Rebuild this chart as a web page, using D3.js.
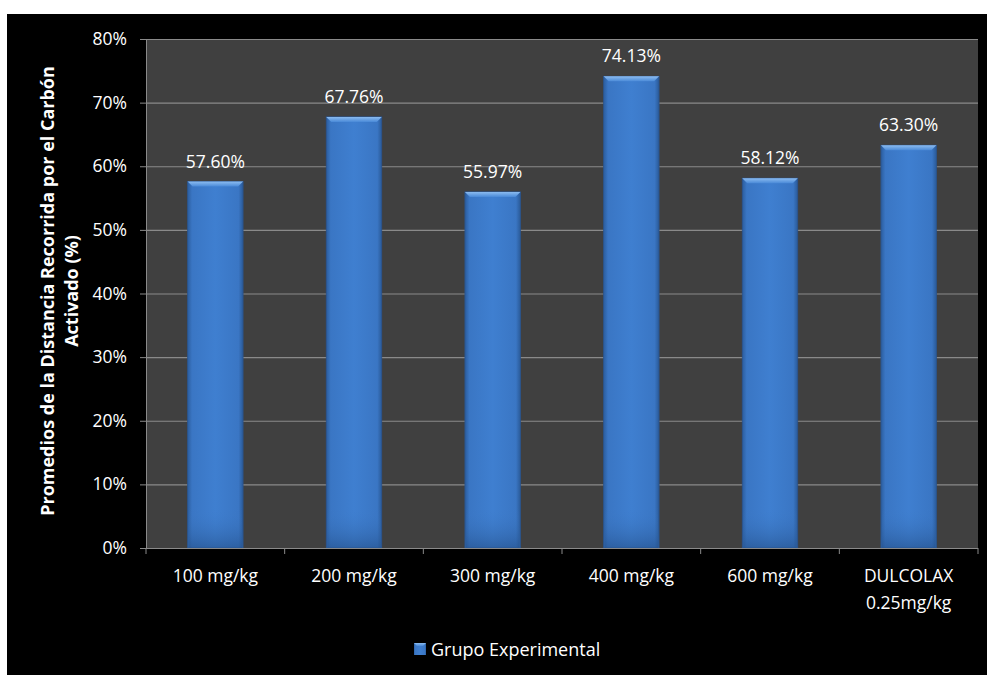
<!DOCTYPE html>
<html>
<head>
<meta charset="utf-8">
<script src="https://cdn.jsdelivr.net/npm/d3@7"></script>
<style>
  body { margin: 0; background: #fff; }
  svg { display: block; font-family: "Open Sans", "Noto Sans", sans-serif; }
</style>
</head>
<body>
<svg id="chart"></svg>
<script>
// Data
const categories = ["100 mg/kg", "200 mg/kg", "300 mg/kg", "400 mg/kg", "600 mg/kg", "DULCOLAX\n0.25mg/kg"]
const values = [57.60, 67.76, 55.97, 74.13, 58.12, 63.30]
const yTicks = [0, 10, 20, 30, 40, 50, 60, 70, 80]
const seriesName = "Grupo Experimental"
const yTitle = ["Promedios de la Distancia Recorrida por el Carbón", "Activado (%)"]

const width = 987
const height = 675
const plot = {left: 146, right: 978, top: 39, bottom: 548}
const fontSize = 17.5

const svg = d3.select('#chart')
    .attr('width', width)
    .attr('height', height)

// gradients for the bevelled bars
const defs = svg.append('defs')
const grad = defs.append('linearGradient').attr('id', 'barGrad')
    .attr('x1', 0).attr('x2', 1).attr('y1', 0).attr('y2', 0)
grad.append('stop').attr('offset', '0%').attr('stop-color', '#2b5d9e')
grad.append('stop').attr('offset', '8%').attr('stop-color', '#3a76c4')
grad.append('stop').attr('offset', '50%').attr('stop-color', '#3f7fd0')
grad.append('stop').attr('offset', '92%').attr('stop-color', '#3a76c4')
grad.append('stop').attr('offset', '100%').attr('stop-color', '#2a5a98')

const topGrad = defs.append('linearGradient').attr('id', 'topGrad')
    .attr('x1', 0).attr('x2', 0).attr('y1', 0).attr('y2', 1)
topGrad.append('stop').attr('offset', '0%').attr('stop-color', '#8cbcf0')
topGrad.append('stop').attr('offset', '100%').attr('stop-color', '#4a8ad8')

const botGrad = defs.append('linearGradient').attr('id', 'botGrad')
    .attr('x1', 0).attr('x2', 0).attr('y1', 0).attr('y2', 1)
botGrad.append('stop').attr('offset', '0%').attr('stop-color', '#3f7fd0').attr('stop-opacity', 0)
botGrad.append('stop').attr('offset', '100%').attr('stop-color', '#24508a').attr('stop-opacity', 0.6)

// black chart background
svg.append('rect')
    .attr('x', 7).attr('y', 14)
    .attr('width', width - 7).attr('height', height - 14)
    .attr('fill', '#000')

// plot area
svg.append('rect')
    .attr('x', plot.left).attr('y', plot.top)
    .attr('width', plot.right - plot.left).attr('height', plot.bottom - plot.top)
    .attr('fill', '#404040')

// scales
const xScale = d3.scaleBand()
    .domain(categories)
    .range([plot.left, plot.right])
    .paddingInner(0.6)
    .paddingOuter(0.3)

const yScale = d3.scaleLinear()
    .domain([0, 80])
    .range([plot.bottom, plot.top])

// gridlines
svg.append('g')
    .selectAll('line')
    .data(yTicks.filter(d => d > 0))
    .enter()
    .append('line')
    .attr('x1', plot.left).attr('x2', plot.right)
    .attr('y1', d => yScale(d) + 0.5).attr('y2', d => yScale(d) + 0.5)
    .attr('stroke', '#8a8a8a')
    .attr('stroke-width', 1.2)

// bars
const bars = svg.append('g')
    .selectAll('g')
    .data(values)
    .enter()
    .append('g')

bars.append('rect')
    .attr('x', (d, i) => xScale(categories[i]))
    .attr('y', d => yScale(d))
    .attr('width', xScale.bandwidth())
    .attr('height', d => plot.bottom - yScale(d))
    .attr('fill', 'url(#barGrad)')
    .attr('stroke', '#2a5590')
    .attr('stroke-width', 0.8)

bars.append('path')
    .attr('d', (d, i) => {
        const x0 = xScale(categories[i]), x1 = x0 + xScale.bandwidth(), y = yScale(d)
        return `M${x0},${y}L${x1},${y}L${x1 - 5},${y + 5}L${x0 + 5},${y + 5}Z`
    })
    .attr('fill', 'url(#topGrad)')

bars.append('rect')
    .attr('x', (d, i) => xScale(categories[i]) + 1)
    .attr('y', plot.bottom - 40)
    .attr('width', xScale.bandwidth() - 2)
    .attr('height', 40)
    .attr('fill', 'url(#botGrad)')

// data labels
bars.append('text')
    .attr('x', (d, i) => xScale(categories[i]) + xScale.bandwidth() / 2)
    .attr('y', d => yScale(d) - 14)
    .attr('text-anchor', 'middle')
    .attr('fill', '#fff')
    .attr('font-size', fontSize)
    .text(d => d.toFixed(2) + '%')

// y axis
const yAxis = d3.axisLeft(yScale)
    .tickValues(yTicks)
    .tickFormat(d => d + '%')
    .tickSize(6)
    .tickPadding(13)
svg.append('g')
    .attr('transform', 'translate(' + plot.left + ',0)')
    .call(yAxis)
    .call(g => g.selectAll('line, path').attr('stroke', '#8a8a8a'))
    .call(g => g.select('.domain').attr('d', `M0.5,${plot.top}V${plot.bottom}`))
    .call(g => g.selectAll('text').attr('fill', '#fff').attr('font-size', fontSize)
        .attr('font-family', '"Open Sans", sans-serif'))

// x axis (category boundaries as ticks)
const boundaries = d3.range(categories.length + 1)
    .map(i => plot.left + i * (plot.right - plot.left) / categories.length)
const xg = svg.append('g')
xg.append('line')
    .attr('x1', plot.left).attr('x2', plot.right)
    .attr('y1', plot.bottom + 0.5).attr('y2', plot.bottom + 0.5)
    .attr('stroke', '#8a8a8a').attr('stroke-width', 1.2)
xg.selectAll('.tick')
    .data(boundaries)
    .enter()
    .append('line')
    .attr('x1', d => d).attr('x2', d => d)
    .attr('y1', plot.bottom).attr('y2', plot.bottom + 6)
    .attr('stroke', '#8a8a8a')

xg.selectAll('.xlabel')
    .data(categories)
    .enter()
    .append('text')
    .attr('x', d => xScale(d) + xScale.bandwidth() / 2)
    .attr('y', 582)
    .attr('text-anchor', 'middle')
    .attr('fill', '#fff')
    .attr('font-size', fontSize)
    .selectAll('tspan')
    .data(d => d.split('\n'))
    .enter()
    .append('tspan')
    .attr('x', function () { return this.parentNode.getAttribute('x') })
    .attr('dy', (d, i) => i === 0 ? 0 : 27)
    .text(d => d)

// y title
svg.append('text')
    .attr('transform', 'translate(54,' + 291 + ') rotate(-90)')
    .attr('text-anchor', 'middle')
    .attr('fill', '#fff')
    .attr('font-size', 18)
    .attr('font-weight', 'bold')
    .selectAll('tspan')
    .data(yTitle)
    .enter()
    .append('tspan')
    .attr('x', 0)
    .attr('dy', (d, i) => i === 0 ? 0 : 24)
    .text(d => d)

// legend
const legend = svg.append('g').attr('transform', 'translate(414,643)')
legend.append('rect')
    .attr('width', 12).attr('height', 12)
    .attr('fill', 'url(#barGrad)')
legend.append('path')
    .attr('d', 'M0,0L12,0L9,3L3,3Z')
    .attr('fill', 'url(#topGrad)')
legend.append('text')
    .attr('x', 17).attr('y', 12.5)
    .attr('fill', '#fff')
    .attr('font-size', 18)
    .text(seriesName)
</script>
</body>
</html>
